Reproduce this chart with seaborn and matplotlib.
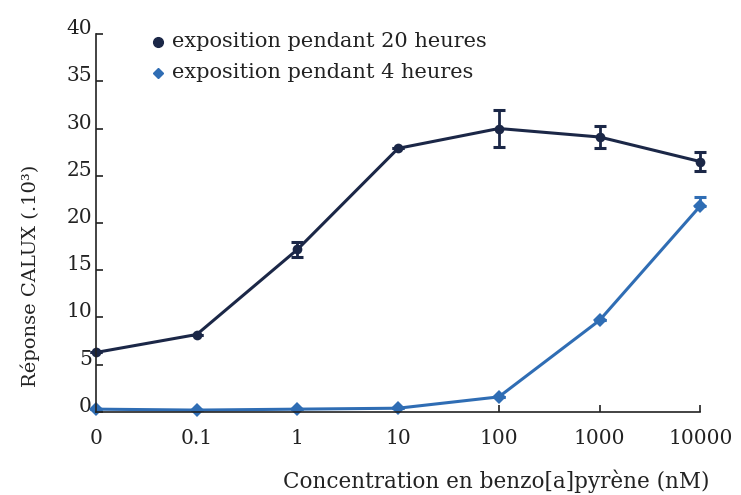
import numpy as np
import pandas as pd
import seaborn as sns
import matplotlib.pyplot as plt

# concentrations (nM) as shown on the x axis
conc = ["0", "0.1", "1", "10", "100", "1000", "10000"]

# CALUX response (x10^3)
resp_20h = [6.3, 8.2, 17.2, 27.9, 30.0, 29.1, 26.5]
err_20h = [0.0, 0.0, 0.8, 0.0, 2.0, 1.2, 1.0]
resp_4h = [0.3, 0.2, 0.3, 0.4, 1.6, 9.7, 21.8]
err_4h = [0.0, 0.0, 0.0, 0.0, 0.0, 0.0, 0.9]

lab_20h = "exposition pendant 20 heures"
lab_4h = "exposition pendant 4 heures"

dark = "#1b2747"
blue = "#2f6db4"
txt = "#222222"

sns.set_style("white")
plt.rcParams["font.family"] = ["DejaVu Serif"]

df = pd.DataFrame({
    "conc": conc * 2,
    "resp": resp_20h + resp_4h,
    "serie": [lab_20h] * len(conc) + [lab_4h] * len(conc),
})

fig = plt.figure(figsize=(7.41, 4.95), dpi=100)
ax = fig.add_axes([0.1296, 0.1677, 0.8154, 0.7636])

sns.lineplot(data=df, x="conc", y="resp", hue="serie", style="serie",
             palette=[dark, blue], markers=["o", "D"], dashes=False,
             markersize=7, linewidth=2.2, markeredgewidth=0, ax=ax,
             sort=False, legend=False, clip_on=False)

# error bars
ax.errorbar(conc, resp_20h, yerr=err_20h, fmt="none", ecolor=dark,
            elinewidth=2.0, capsize=4, capthick=2.2, clip_on=False)
ax.errorbar(conc, resp_4h, yerr=[[0] * len(conc), err_4h], fmt="none",
            ecolor=blue, elinewidth=2.0, capsize=4, capthick=2.2,
            clip_on=False)

ax.set_xlim(0, len(conc) - 1)
ax.set_ylim(0, 40)
ax.set_yticks(np.arange(0, 41, 5))

sns.despine(ax=ax)
for s in ["left", "bottom"]:
    ax.spines[s].set_color(txt)
    ax.spines[s].set_linewidth(1.2)

ax.tick_params(axis="both", direction="in", length=5, width=1.2,
               colors=txt, labelsize=14.5, left=True, bottom=True)
ax.tick_params(axis="x", pad=12)
ax.tick_params(axis="y", pad=3)
for t in ax.get_yticklabels():
    t.set_va("baseline")

ax.set_xlabel("Concentration en benzo[a]pyrène (nM)", fontsize=15.5,
              color=txt, va="center")
ax.xaxis.set_label_coords(0.662, -0.184)
ax.set_ylabel("Réponse CALUX (.10³)", fontsize=14, color=txt, va="center")
ax.yaxis.set_label_coords(-0.109, 0.36)

# legend drawn as text, like the original
ax.plot([0.616], [39.2], "o", color=dark, markersize=7, clip_on=False)
ax.text(0.755, 39.2, lab_20h, fontsize=15, va="center", color=txt)
ax.plot([0.616], [35.9], "D", color=blue, markersize=5, clip_on=False)
ax.text(0.755, 35.9, lab_4h, fontsize=15, va="center", color=txt)

fig.savefig("out.png", dpi=100)
